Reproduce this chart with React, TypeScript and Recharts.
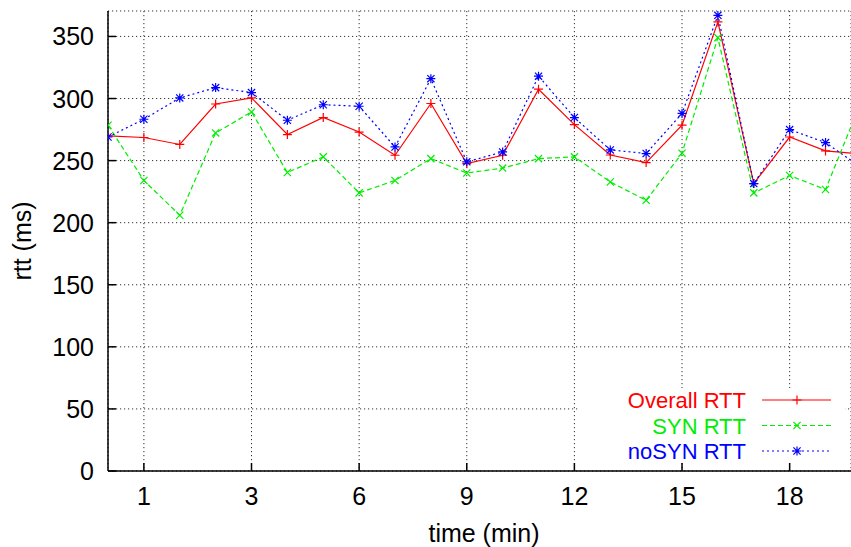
import { LineChart, Line, XAxis, YAxis, CartesianGrid, Legend } from "recharts"

// sample index (one per point), the plot is cropped a bit after index 20
const SAMPLES = [0, 1, 2, 3, 4, 5, 6, 7, 8, 9, 10, 11, 12, 13, 14, 15, 16, 17, 18, 19, 20, 21]
const OVERALL_RTT = [270, 268.6, 263, 295.6, 300.5, 271, 284.7, 273, 254.3, 296, 247.6, 254.3, 307.5, 279, 254.5, 248.4, 278.5, 361.7, 231.5, 269, 257.8, 255.3]
const SYN_RTT = [278.5, 234, 206, 272.3, 289.2, 240.4, 253, 224, 234, 251.6, 240, 244, 251.6, 253, 232.8, 218, 256, 349, 224, 238, 226.7, 298]
const NOSYN_RTT = [269, 283.3, 300.5, 308.8, 304.8, 282.5, 295, 293.8, 261, 316, 249, 257, 318, 284.7, 258.6, 255.7, 288, 367, 231.5, 275, 264.5, 244.4]

const X_TICKS = [1, 4, 7, 10, 13, 16, 19]
const X_TICK_LABELS = ["1", "3", "6", "9", "12", "15", "18"]
const Y_TICKS = [0, 50, 100, 150, 200, 250, 300, 350]
const X_DOMAIN: [number, number] = [0, 20.71]
const Y_DOMAIN: [number, number] = [0, 370.5]

const data = SAMPLES.map((i, k) => ({
  i,
  overall: OVERALL_RTT[k],
  syn: SYN_RTT[k],
  nosyn: NOSYN_RTT[k],
}))

const FONT = "'Liberation Sans', Arial, Helvetica, sans-serif"
const FS = 25
const KEY_FS = 22

type MarkerKind = "plus" | "cross" | "star"

const SERIES: { key: string; name: string; color: string; dash?: string; marker: MarkerKind }[] = [
  { key: "overall", name: "Overall RTT", color: "#ff0000", marker: "plus" },
  { key: "syn", name: "SYN RTT", color: "#00ee00", dash: "5 3", marker: "cross" },
  { key: "nosyn", name: "noSYN RTT", color: "#0000ff", dash: "2 3", marker: "star" },
]

function Marker({ cx, cy, kind, color }: { cx: number; cy: number; kind: MarkerKind; color: string }) {
  const s = 4.5
  const d = 3.6
  const plus = `M${cx - s},${cy}H${cx + s}M${cx},${cy - s}V${cy + s}`
  const cross = `M${cx - d},${cy - d}L${cx + d},${cy + d}M${cx - d},${cy + d}L${cx + d},${cy - d}`
  const path = kind === "plus" ? plus : kind === "cross" ? cross : plus + cross
  return <path d={path} stroke={color} strokeWidth={1.2} fill="none" />
}

function BottomTick({ x, y, payload }: any) {
  const idx = X_TICKS.indexOf(payload.value)
  return (
    <g>
      <line x1={x} x2={x} y1={y} y2={y - 8} stroke="#000" strokeWidth={1.5} />
      <text x={x} y={y + 34} textAnchor="middle" fontFamily={FONT} fontSize={FS} fill="#000">
        {X_TICK_LABELS[idx] ?? ""}
      </text>
    </g>
  )
}

function TopTick({ x, y }: any) {
  return <line x1={x} x2={x} y1={y} y2={y + 8} stroke="#000" strokeWidth={1.5} />
}

function LeftTick({ x, y, payload }: any) {
  return (
    <g>
      <line x1={x} x2={x + 8} y1={y} y2={y} stroke="#000" strokeWidth={1.5} />
      <text x={x - 14} y={y + 9} textAnchor="end" fontFamily={FONT} fontSize={FS} fill="#000">
        {payload.value}
      </text>
    </g>
  )
}

// key box: white patch hides the grid behind it, like gnuplot's key
function KeyBox() {
  return (
    <svg width={267} height={82} style={{ display: "block", overflow: "visible" }}>
      <rect x={0} y={6} width={267} height={75} fill="#fff" />
      {SERIES.map((s, k) => {
        const cy = 18 + k * 25.5
        return (
          <g key={s.key}>
            <text x={168} y={cy + 8} textAnchor="end" fontFamily={FONT} fontSize={KEY_FS} fill={s.color}>
              {s.name}
            </text>
            <line x1={184} x2={253} y1={cy} y2={cy} stroke={s.color} strokeWidth={1.2} strokeDasharray={s.dash} />
            <Marker cx={219} cy={cy} kind={s.marker} color={s.color} />
          </g>
        )
      })}
    </svg>
  )
}

export default function App() {
  return (
    <div style={{ position: "absolute", left: 0, top: 0 }}>
      <LineChart width={851} height={547} data={data} margin={{ top: 11, right: 0, bottom: 0, left: 0 }}>
        <CartesianGrid stroke="#333" strokeDasharray="1.2 2.8" strokeWidth={1} />
        <XAxis
          dataKey="i"
          type="number"
          domain={X_DOMAIN}
          ticks={X_TICKS}
          allowDataOverflow
          height={76}
          tickSize={0}
          tickMargin={0}
          tickLine={false}
          tick={<BottomTick />}
          axisLine={{ stroke: "#000", strokeWidth: 1.5 }}
          interval={0}
        />
        <XAxis
          xAxisId="top"
          orientation="top"
          type="number"
          domain={X_DOMAIN}
          ticks={X_TICKS}
          allowDataOverflow
          height={0}
          tickSize={0}
          tickMargin={0}
          tickLine={false}
          tick={<TopTick />}
          axisLine={{ stroke: "#000", strokeWidth: 1.5 }}
          interval={0}
        />
        <YAxis
          type="number"
          domain={Y_DOMAIN}
          ticks={Y_TICKS}
          allowDataOverflow
          width={108}
          tickSize={0}
          tickMargin={0}
          tickLine={false}
          tick={<LeftTick />}
          axisLine={{ stroke: "#000", strokeWidth: 1.5 }}
          interval={0}
        />
        <Legend
          layout="horizontal"
          verticalAlign="middle"
          align="center"
          content={() => <KeyBox />}
          wrapperStyle={{ left: 578, top: 382, width: 267, height: 82 }}
        />
        {SERIES.map((s) => (
          <Line
            key={s.key}
            dataKey={s.key}
            name={s.name}
            type="linear"
            stroke={s.color}
            strokeWidth={1.2}
            strokeDasharray={s.dash}
            isAnimationActive={false}
            activeDot={false}
            dot={(p: any) => <Marker key={`${s.key}-${p.index}`} cx={p.cx} cy={p.cy} kind={s.marker} color={s.color} />}
          />
        ))}
        <text x={31} y={241} transform="rotate(-90, 31, 241)" textAnchor="middle" fontFamily={FONT} fontSize={FS} fill="#000">
          rtt (ms)
        </text>
        <text x={484} y={542} textAnchor="middle" fontFamily={FONT} fontSize={FS} fill="#000">
          time (min)
        </text>
      </LineChart>
    </div>
  )
}
